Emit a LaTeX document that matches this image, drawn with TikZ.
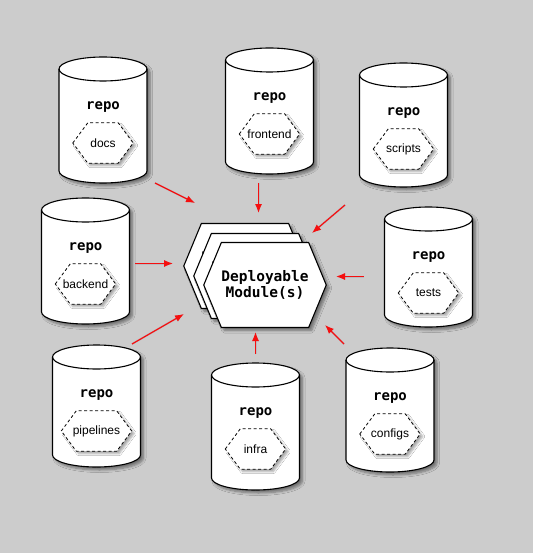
\documentclass[tikz,border=0pt]{standalone}
\usepackage{fontspec}
\setmainfont{Liberation Sans}
\setsansfont{Liberation Sans}
\setmonofont{DejaVu Sans Mono}
\usetikzlibrary{shapes.symbols,shadows.blur,arrows.meta}
\definecolor{bgc}{RGB}{204,204,204}
\definecolor{arrowred}{RGB}{245,15,15}
\definecolor{arrowshadow}{RGB}{160,160,175}
\tikzset{
  softshadow/.style={blur shadow={shadow xshift=3pt, shadow yshift=-3pt, shadow blur radius=2.5pt, shadow opacity=45, shadow blur steps=6}},
  cylbody/.style={draw=black, line width=1.1pt, fill=white, softshadow},
  cylline/.style={draw=black, line width=1.1pt},
  repotitle/.style={font=\ttfamily\bfseries\fontsize{14}{16}\selectfont, inner sep=0pt},
  hexbox/.style={shape=rectangle, minimum height=40pt, inner sep=0pt},
  hexshape/.style={draw=black, dash pattern=on 3pt off 2.5pt, line width=0.8pt, fill=white,
    blur shadow={shadow xshift=2.5pt, shadow yshift=-2.5pt, shadow blur radius=2pt, shadow opacity=35, shadow blur steps=5}},
  hexlabel/.style={inner sep=0pt, font=\fontsize{12}{14}\selectfont},
  modhex/.style={shape=signal, signal to=west and east, signal pointer angle=135,
    minimum width=120pt, minimum height=85pt, inner sep=0pt,
    draw=black, line width=1.1pt, fill=white, softshadow, align=center,
    font=\ttfamily\bfseries\fontsize{14.5}{15.5}\selectfont},
  feedshadow/.style={draw=arrowshadow, line width=2pt, -{Latex[length=9pt,width=7pt]}, opacity=0.4},
  feed/.style={draw=arrowred, line width=1.2pt, -{Latex[length=9pt,width=7pt]}}
}
% #1 name, #2 centre x, #3 top y, #4 bottom y, #5 label, #6 hexagon width
\newcommand\repocyl[6]{%
  \path[cylbody] ({#2-44},{-#3-12}) -- ({#2-44},{-#4+12})
     arc[start angle=180, end angle=360, x radius=44, y radius=12]
     -- ({#2+44},{-#3-12})
     arc[start angle=0, end angle=180, x radius=44, y radius=12] -- cycle;
  \draw[cylline] ({#2-44},{-#3-12}) arc[start angle=180, end angle=360, x radius=44, y radius=12];
  \node[repotitle] (#1) at (#2,{-#3-50}) {repo};
  \node[hexbox, minimum width=#6pt] (#1-h) at (#2,{-#3-86}) {};
  \path[hexshape] (#1-h.west) -- ([xshift=15pt]#1-h.north west) -- ([xshift=-15pt]#1-h.north east)
     -- (#1-h.east) -- ([xshift=-15pt]#1-h.south east) -- ([xshift=15pt]#1-h.south west) -- cycle;
  \node[hexlabel] (#1-l) at (#1-h) {#5};
}
\begin{document}
\begin{tikzpicture}[x=1pt,y=1pt]
\fill[bgc] (0,0) rectangle (533,-553);
\useasboundingbox (0,0) rectangle (533,-553);

\repocyl{docs}{103}{57}{183}{docs}{60}
\repocyl{frontend}{269.5}{48}{174}{frontend}{60}
\repocyl{scripts}{403.5}{63}{187}{scripts}{60}
\repocyl{backend}{85.5}{198}{324}{backend}{60}
\repocyl{tests}{428.5}{207}{327}{tests}{60}
\repocyl{pipelines}{96.5}{345}{467}{pipelines}{70}
\repocyl{infra}{255.5}{363}{490}{infra}{60}
\repocyl{configs}{390}{348}{472}{configs}{60}

\node[modhex] (modback) at (245,-266) {Deployable\\Module(s)};
\node[modhex] (modmid) at (255,-276) {Deployable\\Module(s)};
\node[modhex] (module) at (265,-285) {Deployable\\Module(s)};

\coordinate (a1s) at (155,-183); \coordinate (a1e) at (195,-203);
\coordinate (a2s) at (258.5,-183); \coordinate (a2e) at (258.5,-213);
\coordinate (a3s) at (345,-205); \coordinate (a3e) at (312,-233);
\coordinate (a4s) at (135,-263.5); \coordinate (a4e) at (173,-263.5);
\coordinate (a5s) at (364,-276.5); \coordinate (a5e) at (336,-276.5);
\coordinate (a6s) at (132,-344); \coordinate (a6e) at (184,-314);
\coordinate (a7s) at (255.5,-354); \coordinate (a7e) at (255.5,-332);
\coordinate (a8s) at (344,-344); \coordinate (a8e) at (325,-325);
\foreach \i in {1,...,8} {
  \begin{scope}[shift={(3pt,-3pt)}]
    \draw[feedshadow] (a\i s) -- (a\i e);
  \end{scope}
  \draw[feed] (a\i s) -- (a\i e);
}
\end{tikzpicture}
\end{document}
